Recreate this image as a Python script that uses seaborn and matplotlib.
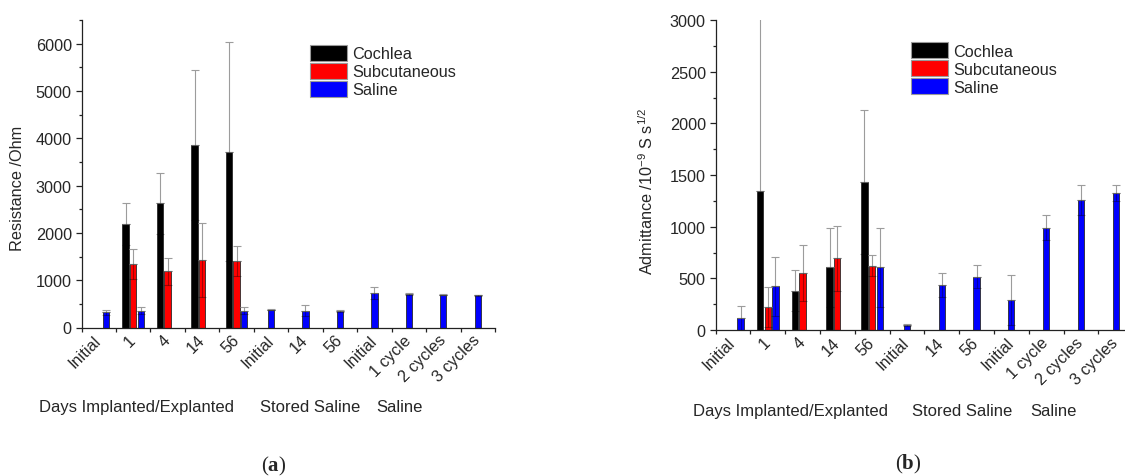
import numpy as np
import pandas as pd
import matplotlib
matplotlib.use("Agg")
import matplotlib.pyplot as plt
import matplotlib.transforms as mtransforms
from matplotlib.patches import Patch
from matplotlib.ticker import MultipleLocator, FixedLocator
import seaborn as sns

# ---------------------------------------------------------------- data
categories = ["Initial", "1", "4", "14", "56",
              "Stored Initial", "Stored 14", "Stored 56",
              "Saline Initial", "1 cycle", "2 cycles", "3 cycles"]
tick_labels = ["Initial", "1", "4", "14", "56",
               "Initial", "14", "56",
               "Initial", "1 cycle", "2 cycles", "3 cycles"]
implant_days = ["Initial", "1", "4", "14", "56"]
later_conditions = categories[5:]
groups = ["Cochlea", "Subcutaneous", "Saline"]
group_colors = ["#000000", "#ff0000", "#0000ff"]

# Resistance (Ohm): implanted / explanted electrodes (NaN = not measured)
res_cochlea = [np.nan, 2195, 2627, 3857, 3717]
res_cochlea_err = [np.nan, 445, 647, 1578, 2308]
res_subcut = [np.nan, 1335, 1185, 1435, 1415]
res_subcut_err = [np.nan, 320, 288, 782, 318]
res_saline = [320, 355, np.nan, np.nan, 355]
res_saline_err = [55, 70, np.nan, np.nan, 70]
# Resistance: stored in saline and saline cycling
res_later = [375, 355, 345, 720, 705, 695, 680]
res_later_err = [15, 112, 15, 128, 15, 12, 12]

# Admittance (1e-9 S s^1/2)
adm_cochlea = [np.nan, 1347, 381, 606, 1433]
adm_cochlea_err = [np.nan, 1700, 196, 381, 698]
adm_subcut = [np.nan, 221, 554, 696, 622]
adm_subcut_err = [np.nan, 192, 270, 314, 99]
adm_saline = [112, 423, np.nan, np.nan, 606]
adm_saline_err = [125, 285, np.nan, np.nan, 384]
adm_later = [51, 433, 516, 288, 990, 1260, 1328]
adm_later_err = [8, 115, 109, 241, 122, 144, 76]

group_text = ["Days Implanted/Explanted", "Stored Saline", "Saline"]

# ---------------------------------------------------------------- style
sns.set_style("ticks")
plt.rcParams["font.family"] = ["Liberation Sans", "DejaVu Sans"]
plt.rcParams["mathtext.fontset"] = "custom"
plt.rcParams["mathtext.rm"] = "Liberation Sans"
plt.rcParams["mathtext.bf"] = "Liberation Serif:bold"
FS = 11.7
AX_COLOR = "#222222"


def build_frame(cochlea, cochlea_err, subcut, subcut_err, saline, saline_err,
                later, later_err):
    rows = []
    for i, day in enumerate(implant_days):
        for grp, vals, errs in ((groups[0], cochlea, cochlea_err),
                                (groups[1], subcut, subcut_err),
                                (groups[2], saline, saline_err)):
            if not np.isnan(vals[i]):
                rows.append(dict(category=day, group=grp,
                                 value=vals[i], err=errs[i]))
    for cond, v, e in zip(later_conditions, later, later_err):
        rows.append(dict(category=cond, group="Saline", value=v, err=e))
    return pd.DataFrame(rows)


def draw_panel(ax, df, ymax, major, ylabel, label_xy, text_x, text_y,
               legend_anchor):
    implanted = df[df["category"].isin(implant_days)]
    later = df[~df["category"].isin(implant_days)]
    bar_kw = dict(errorbar=None, saturation=1, edgecolor="#2a2a2a",
                  linewidth=0.6, ax=ax)
    sns.barplot(data=implanted, x="category", y="value", hue="group",
                order=categories, hue_order=groups, palette=group_colors,
                width=0.66, gap=0.17, legend=False, **bar_kw)
    sns.barplot(data=later, x="category", y="value", order=categories,
                color=group_colors[2], width=0.183, **bar_kw)

    # standard deviations: grey whisker above each column, and a darkened
    # trace of the lower half drawn through the column itself
    for bar in list(ax.patches):
        cx = bar.get_x() + bar.get_width() / 2
        h = bar.get_height()
        cat = categories[int(round(cx))]
        row = df[(df["category"] == cat) & np.isclose(df["value"], h)]
        if row.empty:
            continue
        e = row["err"].iloc[0]
        ax.errorbar(cx, h, yerr=[[0], [e]], fmt="none", ecolor="#9c9c9c",
                    elinewidth=0.8, capsize=3, capthick=0.8, zorder=4)
        ax.errorbar(cx, h, yerr=[[e], [0]], fmt="none", ecolor="#000000",
                    alpha=0.35, elinewidth=0.8, capsize=3, capthick=0.8,
                    zorder=4)

    ax.set_xlim(-0.5, len(categories) - 0.5)
    ax.set_ylim(0, ymax)
    ax.yaxis.set_major_locator(MultipleLocator(major))
    ax.yaxis.set_minor_locator(MultipleLocator(major / 2))
    ax.set_xticks(range(len(categories)))
    ax.set_xticklabels(tick_labels)
    ax.xaxis.set_minor_locator(FixedLocator(np.arange(-0.5, len(categories), 1)))
    ax.tick_params(axis="x", which="major", length=0, pad=7, labelsize=FS)
    ax.tick_params(axis="x", which="minor", length=3, width=0.9,
                   color=AX_COLOR, direction="out")
    ax.tick_params(axis="y", which="major", length=4, width=0.9,
                   color=AX_COLOR, direction="out", pad=3, labelsize=FS)
    ax.tick_params(axis="y", which="minor", length=2.2, width=0.9,
                   color=AX_COLOR, direction="out")
    for lab in ax.get_xticklabels():
        lab.set_rotation(45)
        lab.set_ha("right")
        lab.set_va("center")
        lab.set_rotation_mode("anchor")

    for side in ("top", "right"):
        ax.spines[side].set_visible(False)
    for side in ("left", "bottom"):
        ax.spines[side].set_color(AX_COLOR)
        ax.spines[side].set_linewidth(0.9)

    ax.set_xlabel("")
    ax.set_ylabel(ylabel, fontsize=FS)
    ax.yaxis.set_label_coords(*label_xy)

    trans = mtransforms.blended_transform_factory(ax.transData, ax.transAxes)
    for txt, x in zip(group_text, text_x):
        ax.text(x, text_y, txt, transform=trans, ha="left", va="center",
                fontsize=FS + 0.3, clip_on=False)

    handles = [Patch(facecolor=c, edgecolor="#9a9a9a", linewidth=0.8)
               for c in group_colors]
    ax.legend(handles, groups, loc="upper left", bbox_to_anchor=legend_anchor,
              bbox_transform=ax.figure.transFigure, frameon=False,
              borderpad=0, borderaxespad=0, handlelength=2.3,
              handleheight=1.1, handletextpad=0.3, labelspacing=0.1,
              fontsize=FS)


W, H = 1125, 477
fig = plt.figure(figsize=(W / 100, H / 100), dpi=100)
ax_a = fig.add_axes([81.5 / W, (H - 328.5) / H, 413.5 / W, 307.5 / H])
ax_b = fig.add_axes([715.5 / W, (H - 331) / H, 417.6 / W, 310 / H])

df_res = build_frame(res_cochlea, res_cochlea_err, res_subcut, res_subcut_err,
                     res_saline, res_saline_err, res_later, res_later_err)
df_adm = build_frame(adm_cochlea, adm_cochlea_err, adm_subcut, adm_subcut_err,
                     adm_saline, adm_saline_err, adm_later, adm_later_err)

draw_panel(ax_a, df_res, 6500, 1000, "Resistance /Ohm",
           (-0.137, 0.457), (-1.725, 4.668, 8.069), -0.2576,
           (310 / W, 1 - 46 / H))
draw_panel(ax_b, df_adm, 3000, 500,
           r"Admittance /10$^{\mathregular{-9}}$ S s$^{\mathregular{1/2}}$",
           (-0.142, 0.452), (-1.158, 5.158, 8.537), -0.260,
           (911 / W, 1 - 43.3 / H))

fig.text(274 / W, 1 - 466 / H, r"($\mathbf{a}$)", family="Liberation Serif",
         fontsize=15, ha="center", va="center")
fig.text(908.7 / W, 1 - 464 / H, r"($\mathbf{b}$)", family="Liberation Serif",
         fontsize=15, ha="center", va="center")

fig.savefig("out.png", dpi=100)
